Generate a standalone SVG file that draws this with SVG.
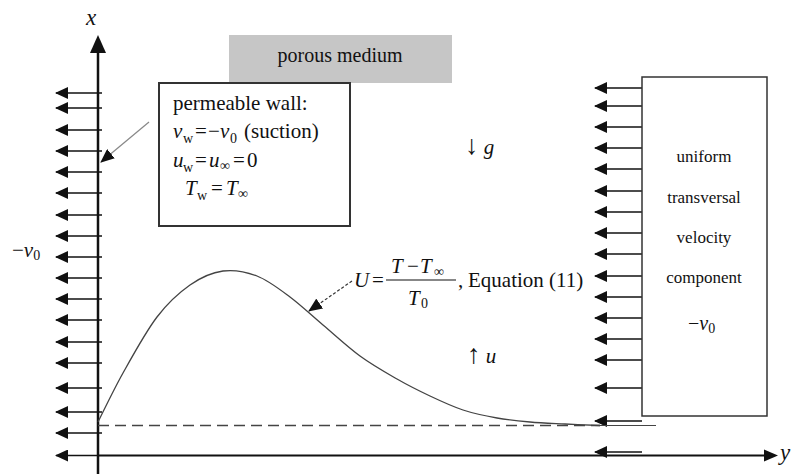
<svg xmlns="http://www.w3.org/2000/svg" width="795" height="474" viewBox="0 0 795 474">
<style>
text{font-family:"Liberation Serif","Times New Roman",serif;fill:#111}
.t21{font-size:21px}
.t17{font-size:17px}
.i{font-style:italic}
.s{font-size:14px}
.arr{stroke:#111;stroke-width:1.5;fill:none;marker-end:url(#ah)}
</style>
<defs>
<marker id="ah" markerUnits="userSpaceOnUse" viewBox="0 0 13 12" refX="12" refY="6" markerWidth="13" markerHeight="12" orient="auto">
<path d="M0,0 L13,6 L0,12 z" fill="#111"/>
</marker>
<marker id="ah2" markerUnits="userSpaceOnUse" viewBox="0 0 14 12" refX="13" refY="6" markerWidth="14" markerHeight="12" orient="auto">
<path d="M0,0 L14,6 L0,12 z" fill="#111"/>
</marker>
</defs>
<rect width="795" height="474" fill="#fff"/>

<g id="porous-medium">
<rect x="229" y="35" width="223" height="48" fill="#c6c6c6"/>
<text class="t21" x="340" y="62" text-anchor="middle" style="font-size:20px">porous medium</text>
</g>

<g id="axes">
<line x1="98" y1="474" x2="98" y2="50" stroke="#111" stroke-width="2.5"/>
<path d="M98,35 L106,53 L90,53 z" fill="#111"/>
<line x1="98" y1="455.5" x2="765" y2="455.5" stroke="#111" stroke-width="2"/>
<path d="M778,455.5 L764,449.5 L764,461.5 z" fill="#111"/>
<text class="i" x="86" y="25" style="font-size:23px">x</text>
<text class="i" x="780" y="460" style="font-size:23px">y</text>
</g>

<g id="left-wall-arrows">
<line class="arr" x1="102" y1="93" x2="56" y2="93"/>
<line class="arr" x1="102" y1="108" x2="56" y2="108"/>
<line class="arr" x1="102" y1="130" x2="56" y2="130"/>
<line class="arr" x1="102" y1="151" x2="56" y2="151"/>
<line class="arr" x1="102" y1="172" x2="56" y2="172"/>
<line class="arr" x1="102" y1="193" x2="56" y2="193"/>
<line class="arr" x1="102" y1="215" x2="56" y2="215"/>
<line class="arr" x1="102" y1="236" x2="56" y2="236"/>
<line class="arr" x1="102" y1="257" x2="56" y2="257"/>
<line class="arr" x1="102" y1="278" x2="56" y2="278"/>
<line class="arr" x1="102" y1="299" x2="56" y2="299"/>
<line class="arr" x1="102" y1="320" x2="56" y2="320"/>
<line class="arr" x1="102" y1="342" x2="56" y2="342"/>
<line class="arr" x1="102" y1="363" x2="56" y2="363"/>
<line class="arr" x1="102" y1="388" x2="56" y2="388"/>
<line class="arr" x1="102" y1="412" x2="56" y2="412"/>
<line class="arr" x1="102" y1="433" x2="56" y2="433"/>
<line class="arr" x1="98" y1="455.5" x2="56" y2="455.5"/>
<text class="t21" x="12" y="257">−<tspan class="i">v</tspan><tspan class="s" dy="3">0</tspan></text>
</g>

<g id="right-arrows">
<line class="arr" x1="642" y1="88" x2="595" y2="88"/>
<line class="arr" x1="642" y1="106" x2="595" y2="106"/>
<line class="arr" x1="642" y1="127" x2="595" y2="127"/>
<line class="arr" x1="642" y1="148" x2="595" y2="148"/>
<line class="arr" x1="642" y1="169" x2="595" y2="169"/>
<line class="arr" x1="642" y1="191" x2="595" y2="191"/>
<line class="arr" x1="642" y1="212" x2="595" y2="212"/>
<line class="arr" x1="642" y1="233" x2="595" y2="233"/>
<line class="arr" x1="642" y1="254" x2="595" y2="254"/>
<line class="arr" x1="642" y1="276" x2="595" y2="276"/>
<line class="arr" x1="642" y1="297" x2="595" y2="297"/>
<line class="arr" x1="642" y1="318" x2="595" y2="318"/>
<line class="arr" x1="642" y1="339" x2="595" y2="339"/>
<line class="arr" x1="642" y1="360" x2="595" y2="360"/>
<line class="arr" x1="642" y1="388" x2="595" y2="388"/>
<line class="arr" x1="642" y1="421" x2="595" y2="421"/>
<line class="arr" x1="642" y1="452" x2="595" y2="452"/>
</g>

<g id="uniform-box">
<rect x="642" y="77" width="125" height="339" fill="#fff" stroke="#333" stroke-width="1.5"/>
<text class="t17" x="704" y="162" text-anchor="middle">uniform</text>
<text class="t17" x="704" y="203" text-anchor="middle">transversal</text>
<text class="t17" x="704" y="243" text-anchor="middle">velocity</text>
<text class="t17" x="704" y="283" text-anchor="middle">component</text>
<text class="t21" x="688" y="330" style="font-size:20px">−<tspan class="i">v</tspan><tspan class="s" dy="3">0</tspan></text>
</g>

<g id="permeable-wall">
<rect x="159" y="83" width="191" height="143" fill="#fff" stroke="#333" stroke-width="2"/>
<text class="t21" x="173" y="110">permeable wall:</text>
<text class="t21" y="138"><tspan class="i" x="173">v</tspan><tspan class="s" x="183" dy="5">w</tspan><tspan x="195" dy="-5">=</tspan><tspan x="208">−</tspan><tspan class="i" x="220">v</tspan><tspan class="s" x="230" dy="5">0</tspan><tspan x="244" dy="-5">(suction)</tspan></text>
<text class="t21" y="167"><tspan class="i" x="173">u</tspan><tspan class="s" x="183" dy="5">w</tspan><tspan x="195" dy="-5">=</tspan><tspan class="i" x="209">u</tspan><tspan class="s" x="220" dy="3">∞</tspan><tspan x="233" dy="-3">=</tspan><tspan x="247">0</tspan></text>
<text class="t21" y="195"><tspan class="i" x="185">T</tspan><tspan class="s" x="197" dy="5">w</tspan><tspan x="211" dy="-5">=</tspan><tspan class="i" x="226">T</tspan><tspan class="s" x="238" dy="3">∞</tspan></text>
</g>

<g id="labels">
<text class="t21" x="465" y="154"><tspan style="font-size:27px">↓</tspan> <tspan class="i">g</tspan></text>
<text class="t21" x="467" y="363"><tspan style="font-size:27px">↑</tspan> <tspan class="i">u</tspan></text>
</g>

<g id="equation">
<text class="t21 i" x="354" y="287">U</text>
<text class="t21" x="372" y="287">=</text>
<text class="t21" y="273"><tspan class="i" x="391">T</tspan><tspan x="407">−</tspan><tspan class="i" x="420">T</tspan><tspan class="s" x="434" dy="3">∞</tspan></text>
<line x1="386" y1="280" x2="456" y2="280" stroke="#111" stroke-width="1.2"/>
<text class="t21" y="305"><tspan class="i" x="408">T</tspan><tspan class="s" x="421" dy="3">0</tspan></text>
<text class="t21" x="458" y="287">,</text>
<text class="t21" x="468" y="287">Equation (11)</text>
</g>

<g id="profile">
<path fill="none" stroke="#444" stroke-width="1.3" d="M98,422 C102.2,413.8 113.2,390.5 123,373 C132.8,355.5 145.8,331.7 157,317 C168.2,302.3 179,292.7 190,285 C201,277.3 211.8,272.5 223,271 C234.2,269.5 245.8,271.7 257,276 C268.2,280.3 279,288.8 290,297 C301,305.2 311.3,315.2 323,325 C334.7,334.8 347.7,347 360,356 C372.3,365 385.3,372.3 397,379 C408.7,385.7 419,390.8 430,396 C441,401.2 451.8,406.3 463,410 C474.2,413.7 485.8,416 497,418 C508.2,420 518.7,421 530,422 C541.3,423 553.3,423.4 565,424 C576.7,424.6 594.2,425.25 600,425.5"/>
</g>

<g id="connectors">
<line x1="98" y1="425.5" x2="600" y2="425.5" stroke="#444" stroke-width="1.3" stroke-dasharray="11,6"/>
<line x1="593" y1="425.5" x2="656" y2="425.5" stroke="#444" stroke-width="1.2"/>
<line x1="149" y1="122" x2="101" y2="162" stroke="#888" stroke-width="1.2" marker-end="url(#ah2)"/>
<line x1="352" y1="281" x2="309" y2="311" stroke="#333" stroke-width="1.2" stroke-dasharray="3,2" marker-end="url(#ah2)"/>
</g>
</svg>
